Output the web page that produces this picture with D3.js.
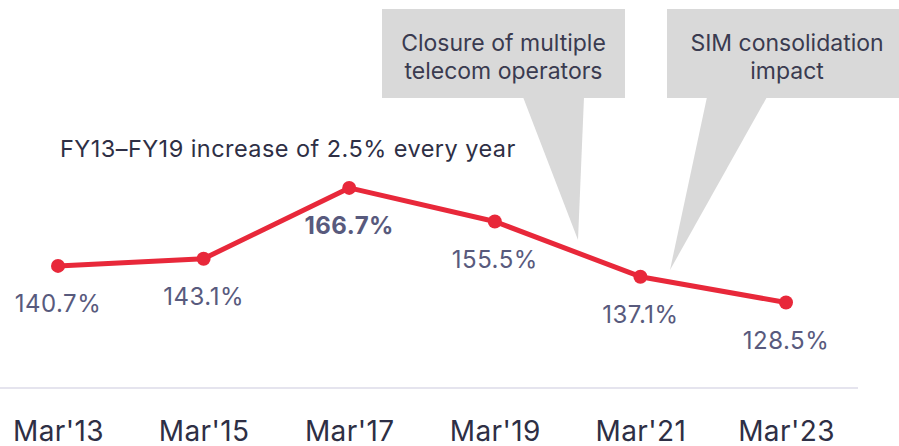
<!DOCTYPE html>
<html>
<head>
<meta charset="utf-8">
<script src="https://cdn.jsdelivr.net/npm/d3@7"></script>
<style>
    body { margin: 0; background: #fff; }
    #chart { width: 899px; height: 446px; }
    text { font-family: Inter, "Noto Sans", sans-serif; }
</style>
</head>
<body>
<div id="chart"></div>
<script>
var categories = ["Mar'13", "Mar'15", "Mar'17", "Mar'19", "Mar'21", "Mar'23"];
var teledensity = [140.7, 143.1, 166.7, 155.5, 137.1, 128.5];
var valueLabels = ["140.7%", "143.1%", "166.7%", "155.5%", "137.1%", "128.5%"];
var boldLabel = "Mar'17";
var trendNote = "FY13\u2013FY19 increase of 2.5% every year";
var callouts = [
    { lines: ["Closure of multiple", "telecom operators"], left: 382, right: 625, tailL: 523, tailR: 584, tip: [578, 240] },
    { lines: ["SIM consolidation", "impact"], left: 667, right: 907, tailL: 707, tailR: 767, tip: [670, 270] }
];

var width = 899;
var height = 446;

var svg = d3.select('#chart')
    .append('svg')
    .attr('width', width)
    .attr('height', height);

var x_scale = d3.scalePoint()
    .domain(categories)
    .range([58, 786]);

var y_scale = d3.scaleLinear()
    .domain([100, 180])
    .range([388, 148]);

// baseline
svg.append('line')
    .attr('x1', 0)
    .attr('x2', 858)
    .attr('y1', y_scale(100))
    .attr('y2', y_scale(100))
    .attr('stroke', '#dcdbe8')
    .attr('stroke-width', 1.5);

var x_axis = d3.axisBottom(x_scale).tickSize(0).tickPadding(0);

var gx = svg.append('g')
    .attr('transform', 'translate(0,' + 441 + ')')
    .call(x_axis);
gx.select('.domain').remove();
gx.selectAll('text')
    .attr('dy', 0)
    .attr('y', 0)
    .attr('fill', '#2e2f45')
    .style('font-size', '28px')
    .style('letter-spacing', '0.4px');

// callouts
callouts.forEach(function (c) {
    var g = svg.append('g');
    g.append('path')
        .attr('d', 'M' + c.tailL + ',97 L' + c.tip[0] + ',' + c.tip[1] + ' L' + c.tailR + ',97 Z')
        .attr('fill', '#d9d9d9');
    g.append('rect')
        .attr('x', c.left)
        .attr('y', 9)
        .attr('width', c.right - c.left)
        .attr('height', 89)
        .attr('fill', '#d9d9d9');
    g.selectAll('text')
        .data(c.lines)
        .enter()
        .append('text')
        .attr('x', (c.left + c.right) / 2)
        .attr('y', function (d, i) { return 51 + i * 28; })
        .attr('text-anchor', 'middle')
        .attr('fill', '#3a3b50')
        .style('font-size', '23px')
        .text(function (d) { return d; });
});

svg.append('text')
    .attr('x', 60)
    .attr('y', 157)
    .attr('fill', '#2e2f45')
    .style('font-size', '23.5px')
    .style('letter-spacing', '0.45px')
    .text(trendNote);

var line = d3.line()
    .x(function (d, i) { return x_scale(categories[i]); })
    .y(function (d) { return y_scale(d); });

svg.append('path')
    .datum(teledensity)
    .attr('d', line)
    .attr('fill', 'none')
    .attr('stroke', '#e8283a')
    .attr('stroke-width', 5)
    .attr('stroke-linejoin', 'round');

svg.selectAll('.dot')
    .data(teledensity)
    .enter()
    .append('circle')
    .attr('class', 'dot')
    .attr('cx', function (d, i) { return x_scale(categories[i]); })
    .attr('cy', function (d) { return y_scale(d); })
    .attr('r', 7)
    .attr('fill', '#e8283a');

svg.selectAll('.val')
    .data(teledensity)
    .enter()
    .append('text')
    .attr('class', 'val')
    .attr('x', function (d, i) { return x_scale(categories[i]); })
    .attr('y', function (d) { return y_scale(d) + 46; })
    .attr('text-anchor', 'middle')
    .attr('fill', '#585a7d')
    .style('font-size', '24px')
    .style('letter-spacing', '0.5px')
    .style('font-weight', function (d, i) { return categories[i] === boldLabel ? 700 : 400; })
    .text(function (d, i) { return valueLabels[i]; });
</script>
</body>
</html>
